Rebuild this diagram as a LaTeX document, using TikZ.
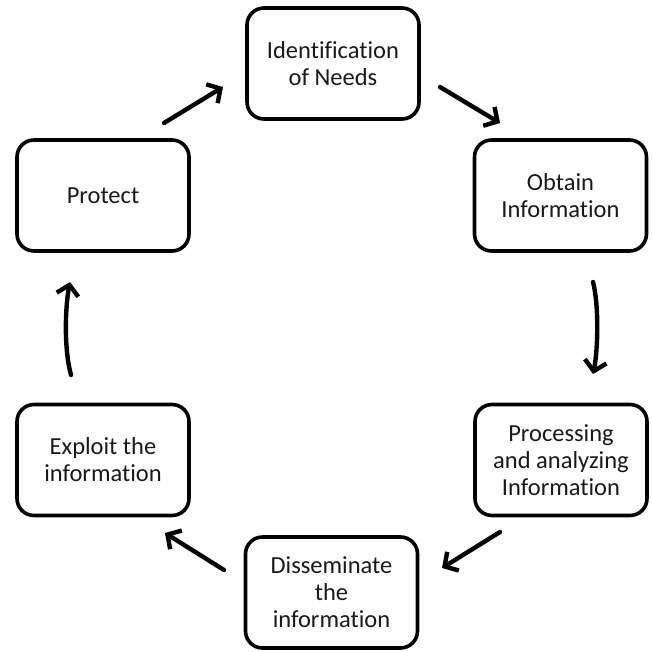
\documentclass[tikz,border=0pt]{standalone}
\usepackage{fontspec}
\setmainfont[Ligatures=NoCommon]{Carlito}
\usetikzlibrary{arrows.meta}

\tikzset{
  stage/.style={draw=black, line width=3.6pt, rounded corners=17pt,
    minimum width=172pt, minimum height=111pt, align=center,
    inner sep=0pt, font=\fontsize{24.5}{27}\selectfont, text=black!90},
  flow/.style={line width=4.4pt, line cap=round,
    -{Straight Barb[length=10pt,width=22pt,line width=4.4pt]}}
}

\begin{document}
\begin{tikzpicture}[x=1pt,y=-1pt]
  \useasboundingbox (0,0) rectangle (651,652);

  % the six stages of the cycle
  \node[stage] (needs)   at (333,63.5)   {Identification\\of Needs};
  \node[stage] (obtain)  at (560.5,195.5) {Obtain\\Information};
  \node[stage] (process) at (561,460)    {Processing\\and analyzing\\Information};
  \node[stage] (dissem)  at (331.5,592.5) {Disseminate\\the\\information};
  \node[stage] (exploit) at (103,460)    {Exploit the\\information};
  \node[stage] (protect) at (103,195.5)  {Protect};

  % arrow end points between neighbouring stages
  \coordinate (pn1) at (164,123);  \coordinate (pn2) at (223,87);
  \coordinate (no1) at (440,87);   \coordinate (no2) at (500,123);
  \coordinate (op1) at (593,282);  \coordinate (op2) at (593,374);
  \coordinate (pd1) at (500,532);  \coordinate (pd2) at (442,568);
  \coordinate (de1) at (224,570);  \coordinate (de2) at (165,533);
  \coordinate (ep1) at (71,375);   \coordinate (ep2) at (70,282);

  % the cycle, clockwise
  \draw[flow] (pn1) -- (pn2);
  \draw[flow] (no1) -- (no2);
  \draw[flow] (op1) .. controls (599,305) and (598,350) .. (op2);
  \draw[flow] (pd1) -- (pd2);
  \draw[flow] (de1) -- (de2);
  \draw[flow] (ep1) .. controls (64,350) and (65,308) .. (ep2);
\end{tikzpicture}
\end{document}
